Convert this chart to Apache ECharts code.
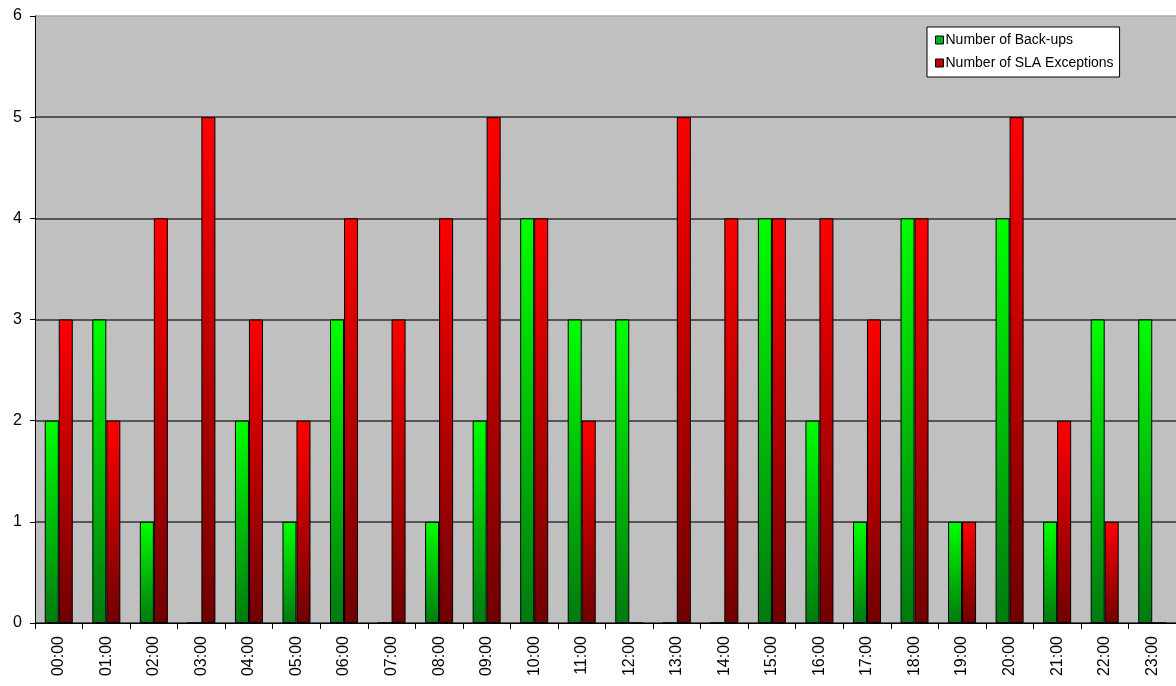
<!DOCTYPE html>
<html>
<head>
    <meta charset="UTF-8">
    <style>
        html, body { margin: 0; padding: 0; background: #fff; }
        #main { width: 1176px; height: 686px; }
    </style>
</head>
<body>
<div id="main"></div>
<script src="https://cdn.jsdelivr.net/npm/echarts@6/dist/echarts.min.js"></script>
<script>
    // hours of the day
    var hours = ['00:00', '01:00', '02:00', '03:00', '04:00', '05:00', '06:00', '07:00',
        '08:00', '09:00', '10:00', '11:00', '12:00', '13:00', '14:00', '15:00',
        '16:00', '17:00', '18:00', '19:00', '20:00', '21:00', '22:00', '23:00'];
    var backups = [2, 3, 1, 0, 2, 1, 3, 0, 1, 2, 4, 3, 3, 0, 0, 4, 2, 1, 4, 1, 4, 1, 3, 3];
    var slaExceptions = [3, 2, 4, 5, 3, 2, 4, 3, 4, 5, 4, 2, 0, 5, 4, 4, 4, 3, 4, 1, 5, 2, 1, 0];
    var yTicks = [0, 1, 2, 3, 4, 5, 6];

    function grad(top, bottom) {
        return new echarts.graphic.LinearGradient(0, 0, 0, 1, [
            {offset: 0, color: top},
            {offset: 1, color: bottom}
        ]);
    }

    var myChart = echarts.init(document.getElementById('main'));
    var option = {
        animation: false,
        backgroundColor: '#ffffff',
        textStyle: {fontFamily: 'Liberation Sans, Arial, sans-serif'},
        grid: {
            left: 35, top: 16, width: 1142, bottom: 63,
            show: true, backgroundColor: '#c0c0c0', borderWidth: 0
        },
        legend: {
            orient: 'vertical',
            left: 927, top: 27,
            backgroundColor: '#ffffff',
            borderColor: '#000', borderWidth: 1,
            padding: [6, 6, 7, 8],
            itemWidth: 8, itemHeight: 8, itemGap: 9,
            textStyle: {fontSize: 14, lineHeight: 14, color: '#000', padding: [0, 0, 0, -3]},
            data: [
                {name: 'Number of Back-ups', icon: 'rect', itemStyle: {color: '#00b020', borderColor: '#000', borderWidth: 1}},
                {name: 'Number of SLA Exceptions', icon: 'rect', itemStyle: {color: '#c00000', borderColor: '#000', borderWidth: 1}}
            ]
        },
        xAxis: {
            type: 'category',
            data: hours,
            axisLine: {lineStyle: {color: '#000', width: 1}},
            axisTick: {show: true, length: 6, lineStyle: {color: '#000'}},
            axisLabel: {rotate: 90, fontSize: 16, color: '#000', margin: 13}
        },
        yAxis: {
            type: 'value',
            min: yTicks[0], max: yTicks[yTicks.length - 1], interval: 1,
            axisLine: {show: true, lineStyle: {color: '#000', width: 1}},
            axisTick: {show: true, length: 5, lineStyle: {color: '#000'}},
            axisLabel: {fontSize: 16, color: '#000', margin: 13},
            splitLine: {
                show: true,
                lineStyle: {color: ['#333', '#333', '#333', '#333', '#333', '#333', '#a8a8a8'], width: 1.5}
            }
        },
        series: [
            {
                name: 'Number of Back-ups',
                type: 'bar',
                data: backups,
                barWidth: 14,
                barGap: '0%',
                itemStyle: {color: grad('#00ff00', '#007a10'), borderColor: '#000', borderWidth: 1}
            },
            {
                name: 'Number of SLA Exceptions',
                type: 'bar',
                data: slaExceptions,
                barWidth: 14,
                itemStyle: {color: grad('#ff0000', '#700000'), borderColor: '#000', borderWidth: 1}
            }
        ]
    };
    myChart.setOption(option);
</script>
</body>
</html>
